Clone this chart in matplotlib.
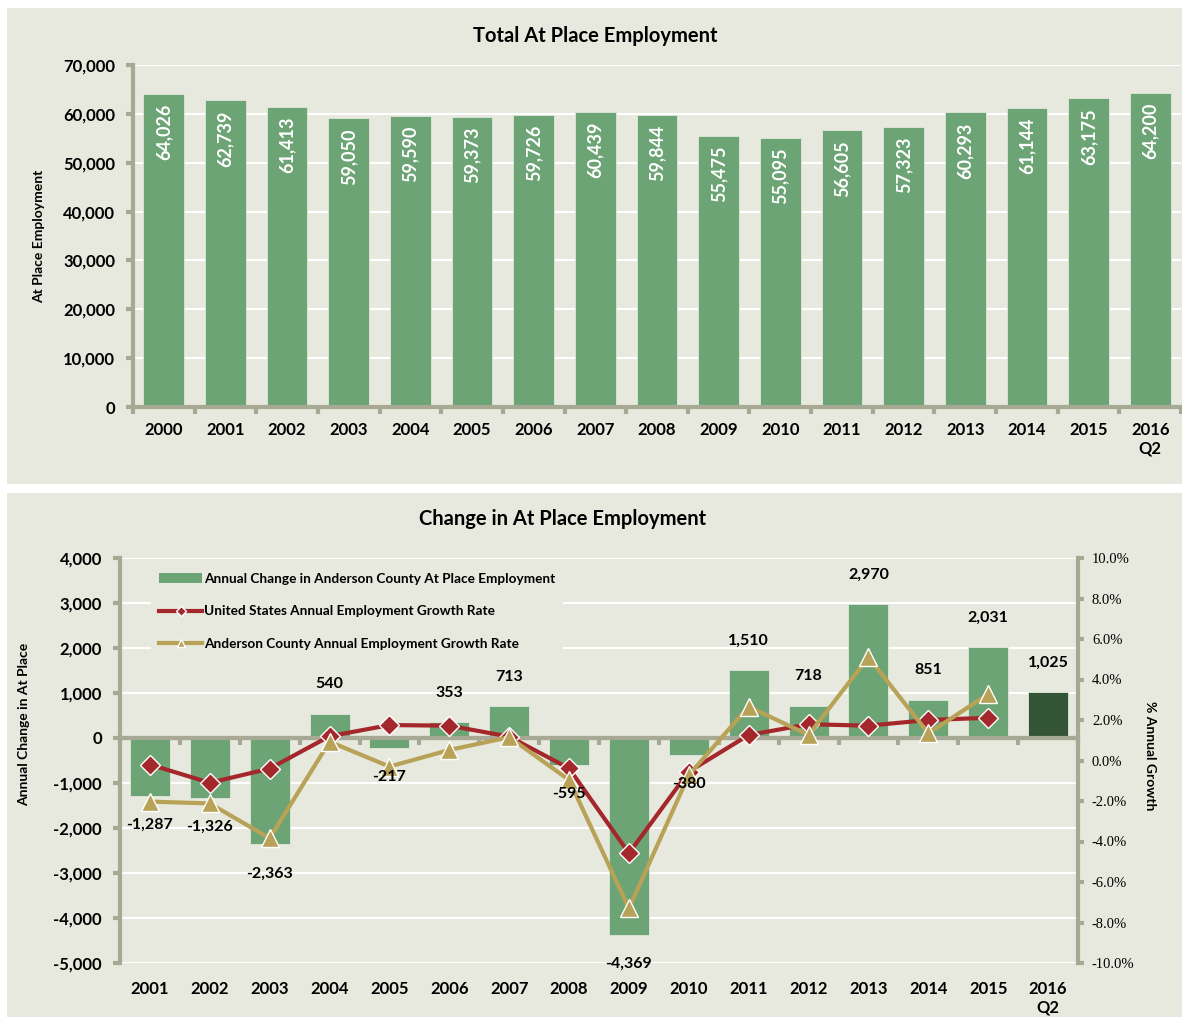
import numpy as np
import matplotlib.pyplot as plt
from matplotlib.patches import Rectangle, Patch
from matplotlib.lines import Line2D

years_top = ["2000", "2001", "2002", "2003", "2004", "2005", "2006", "2007", "2008",
             "2009", "2010", "2011", "2012", "2013", "2014", "2015", "2016\nQ2"]
employment = [64026, 62739, 61413, 59050, 59590, 59373, 59726, 60439, 59844,
              55475, 55095, 56605, 57323, 60293, 61144, 63175, 64200]

years_bot = years_top[1:]
change = [-1287, -1326, -2363, 540, -217, 353, 713, -595, -4369,
          -380, 1510, 718, 2970, 851, 2031, 1025]
us_rate = [-0.2, -1.1, -0.4, 1.2, 1.75, 1.72, 1.18, -0.39, -4.58,
           -0.55, 1.26, 1.79, 1.72, 2.0, 2.11]
anderson_rate = [-2.03, -2.12, -3.84, 0.93, -0.3, 0.52, 1.15, -0.96, -7.3,
                 -0.72, 2.66, 1.26, 5.1, 1.34, 3.28]

bg = "#e8e9de"
green = "#6da475"
dark_green = "#345535"
spine = "#a8a995"
red = "#a4282b"
gold = "#b8a257"

plt.rcParams['font.family'] = ['Lato', 'DejaVu Sans']

W, H = 1182, 1017
fig = plt.figure(figsize=(W / 100, H / 100), dpi=100, facecolor="white")
fig.patches.append(Rectangle((7 / W, 1 - 484 / H), 1 - 7 / W, (484 - 8) / H,
                             transform=fig.transFigure, facecolor=bg, edgecolor="none", zorder=-1))
fig.patches.append(Rectangle((7 / W, 0), 1 - 7 / W, 1 - 493 / H,
                             transform=fig.transFigure, facecolor=bg, edgecolor="none", zorder=-1))


def style(ax):
    ax.set_facecolor(bg)
    ax.grid(axis="y", color="white", linewidth=1.5)
    ax.set_axisbelow(True)
    for s in ["top", "right"]:
        ax.spines[s].set_visible(False)
    for s in ["left", "bottom"]:
        ax.spines[s].set_color(spine)
        ax.spines[s].set_linewidth(3)


# ---- top chart
ax1 = fig.add_axes([133 / W, 1 - 407 / H, (1181 - 133) / W, (407 - 65) / H])
style(ax1)
x1 = np.arange(len(years_top))
ax1.bar(x1, employment, width=0.66, color=green, edgecolor="#e0e8dc", linewidth=0.6)
ax1.set_xlim(-0.5, len(years_top) - 0.5)
ax1.set_ylim(0, 70000)
ax1.set_yticks(np.arange(0, 70001, 10000))
ax1.set_yticklabels([f"{v:,}" for v in range(0, 70001, 10000)], fontsize=12, fontweight="bold")
ax1.set_xticks(x1)
ax1.set_xticklabels(years_top, fontsize=12, fontweight="bold")
ax1.tick_params(axis="x", length=0, pad=11)
ax1.set_xticks(np.arange(-0.5, len(years_top)), minor=True)
ax1.tick_params(axis="x", which="minor", length=5, width=3, color=spine)
ax1.tick_params(axis="y", length=5, width=3, color=spine, pad=8)
for xi, v in zip(x1, employment):
    ax1.annotate(f"{v:,}", (xi, v), xytext=(0, -7), textcoords="offset points",
                 rotation=90, ha="center", va="top", color="white",
                 fontsize=13, fontweight="bold")
ax1.set_ylabel("At Place Employment", fontsize=10, fontweight="bold")
ax1.yaxis.set_label_coords((45 - 133) / (1181 - 133), 0.5)
fig.text(595 / W, 1 - 36 / H, "Total At Place Employment", ha="center", va="center",
         fontsize=14.5, fontweight="bold")

# ---- bottom chart
ax2 = fig.add_axes([120 / W, 1 - 963 / H, (1078 - 120) / W, (963 - 558) / H])
style(ax2)
ax2.spines["bottom"].set_visible(False)
x2 = np.arange(len(years_bot))
colors = [green] * (len(change) - 1) + [dark_green]
ax2.bar(x2, change, width=0.67, color=colors, edgecolor="#e0e8dc", linewidth=0.6)
ax2.axhline(0, color=spine, linewidth=3, zorder=2.5)
ax2.set_xlim(-0.5, len(years_bot) - 0.5)
ax2.set_ylim(-5000, 4000)
ax2.set_yticks(np.arange(-5000, 4001, 1000))
ax2.set_yticklabels([f"{v:,}" for v in range(-5000, 4001, 1000)], fontsize=12, fontweight="bold")
ax2.tick_params(axis="y", length=5, width=3, color=spine, pad=8)
ax2.set_xticks(x2)
ax2.set_xticklabels(years_bot, fontsize=12, fontweight="bold")
ax2.tick_params(axis="x", length=0, pad=13)
ax2.set_ylabel("Annual Change in At Place", fontsize=10, fontweight="bold")
ax2.yaxis.set_label_coords((30 - 120) / (1078 - 120), (963 - 724) / 405)

sec = ax2.secondary_xaxis(0, transform=ax2.get_yaxis_transform())
sec.set_alignment("bottom")
sec.set_xticks(np.arange(-0.5, len(years_bot)))
sec.set_xticklabels([])
sec.spines["bottom"].set_color(spine)
sec.spines["bottom"].set_linewidth(3)
sec.tick_params(axis="x", length=5, width=3, color=spine)

ax3 = ax2.twinx()
ax3.set_ylim(-10, 10)
ax3.set_yticks(np.arange(-10, 10.1, 2))
ax3.set_yticklabels([f"{v:.1f}%" for v in np.arange(-10, 10.1, 2)],
                    fontsize=10.5, family="Liberation Serif")
for s in ["top", "left", "bottom"]:
    ax3.spines[s].set_visible(False)
ax3.spines["right"].set_color(spine)
ax3.spines["right"].set_linewidth(3)
ax3.tick_params(axis="y", length=4, width=3, color=spine, pad=6)
ax3.set_ylabel("% Annual Growth", rotation=270, fontsize=10, fontweight="bold", va="center")
ax3.yaxis.set_label_coords((1150 - 120) / (1078 - 120), (963 - 756) / 405)
xl = x2[:len(us_rate)]
ax3.plot(xl, us_rate, color=red, linewidth=3, marker="D", markersize=10,
         markerfacecolor=red, markeredgecolor="white", markeredgewidth=1)
ax3.plot(xl, anderson_rate, color=gold, linewidth=3, marker="^", markersize=13,
         markerfacecolor=gold, markeredgecolor="white", markeredgewidth=1)

# bar value labels drawn on the top axes so they sit above the lines
for xi, v in zip(x2, change):
    ax3.annotate(f"{v:,}", (xi, v), xycoords=ax2.transData,
                 xytext=(0, 16 if v > 0 else -16), textcoords="offset points",
                 ha="center", va="bottom" if v > 0 else "top",
                 fontsize=11.5, fontweight="bold")

handles = [Patch(facecolor=green, edgecolor="none"),
           Line2D([], [], color=red, linewidth=3, marker="D", markersize=5,
                  markerfacecolor=red, markeredgecolor="white"),
           Line2D([], [], color=gold, linewidth=3, marker="^", markersize=6,
                  markerfacecolor=gold, markeredgecolor="white")]
labels = ["Annual Change in Anderson County At Place Employment",
          "United States Annual Employment Growth Rate",
          "Anderson County Annual Employment Growth Rate"]
ax3.legend(handles, labels, loc="upper left", bbox_to_anchor=(0.025, 1.0),
           frameon=True, facecolor=bg, edgecolor="none", framealpha=1,
           fancybox=False, prop={"weight": "bold", "size": 9.8},
           handlelength=3.2, handletextpad=0.1, labelspacing=1.5, borderpad=0.6)

fig.text(563 / W, 1 - 519 / H, "Change in At Place Employment", ha="center", va="center",
         fontsize=14.5, fontweight="bold")

fig.savefig("out.png", dpi=100, facecolor="white")
